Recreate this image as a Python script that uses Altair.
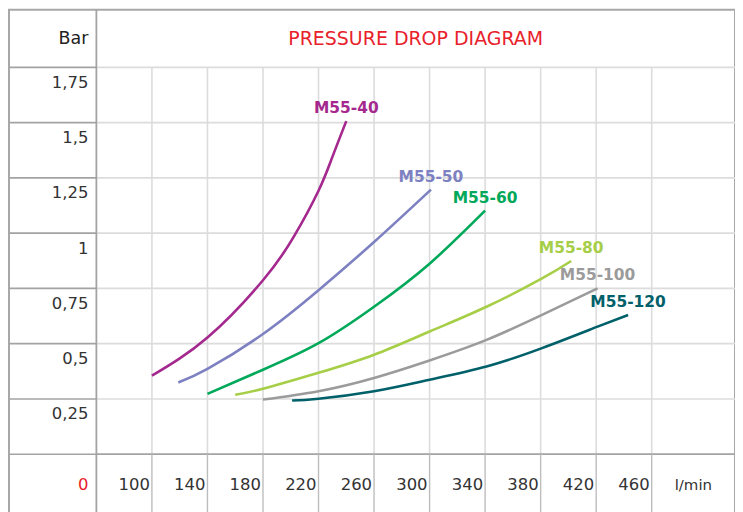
import altair as alt
import pandas as pd

# ---------------- data ----------------
SERIES = ["M55-40", "M55-50", "M55-60", "M55-80", "M55-100", "M55-120"]
COLORS = ["#a4288e", "#7d80c1", "#00a859", "#a6ce47", "#9b9b9b", "#00606a"]

m40_flow = [100, 140, 180, 202, 220, 230, 240]
m40_bar = [0.355, 0.528, 0.787, 0.982, 1.192, 1.345, 1.507]
m50_flow = [119, 140, 180, 220, 260, 301]
m50_bar = [0.324, 0.386, 0.544, 0.742, 0.960, 1.197]
m60_flow = [140, 180, 220, 260, 300, 340]
m60_bar = [0.273, 0.382, 0.502, 0.667, 0.862, 1.102]
m80_flow = [160, 180, 220, 260, 300, 341, 381, 402]
m80_bar = [0.269, 0.296, 0.368, 0.450, 0.555, 0.667, 0.795, 0.874]
m100_flow = [180, 220, 260, 300, 341, 381, 421]
m100_bar = [0.247, 0.285, 0.345, 0.424, 0.517, 0.630, 0.750]
m120_flow = [201, 220, 260, 300, 341, 381, 421, 443]
m120_bar = [0.243, 0.251, 0.285, 0.337, 0.397, 0.480, 0.577, 0.630]

Y_TICKS = [0.25, 0.5, 0.75, 1.0, 1.25, 1.5, 1.75]
Y_LABELS = ["0,25", "0,5", "0,75", "1", "1,25", "1,5", "1,75"]
X_TICKS = [100, 140, 180, 220, 260, 300, 340, 380, 420, 460]
X_LABELS = ["100", "140", "180", "220", "260", "300", "340", "380", "420", "460"]
ORIGIN_LABEL = "0"
UNIT_X = "l/min"
UNIT_Y = "Bar"
TITLE = "PRESSURE DROP DIAGRAM"

# table geometry in data units
X_MIN, X_SEP, X_MAX = -2.95, 60, 520
Y_MIN, Y_ZERO, Y_TOP, Y_MAX = -0.3353, 0, 1.75, 2.011

FONT = "DejaVu Sans"
DARK = "#a3a3a3"
LIGHT = "#dcdcdc"
TEXT = "#333333"
RED = "#e8212b"

xs = alt.Scale(domain=[X_MIN, X_MAX], nice=False, zero=False)
ys = alt.Scale(domain=[Y_MIN, Y_MAX], nice=False, zero=False)
cs = alt.Scale(domain=SERIES, range=COLORS)

flows = [m40_flow, m50_flow, m60_flow, m80_flow, m100_flow, m120_flow]
bars = [m40_bar, m50_bar, m60_bar, m80_bar, m100_bar, m120_bar]
rows = []
ends = []
for s, fl, br in zip(SERIES, flows, bars):
    for i, (f, b) in enumerate(zip(fl, br)):
        rows.append({"series": s, "flow": f, "bar": b, "idx": i})
    ends.append({"series": s, "flow": fl[-1], "bar": br[-1]})
curves = pd.DataFrame(rows)
ends = pd.DataFrame(ends)

X = lambda f: alt.X(f, scale=xs, axis=None)
Y = lambda f: alt.Y(f, scale=ys, axis=None)

# grid / table lines
h_plot = pd.DataFrame({"y": Y_TICKS, "x0": X_SEP, "x1": X_MAX})
h_left = pd.DataFrame({"y": Y_TICKS + [Y_ZERO], "x0": X_MIN, "x1": X_SEP})
h_zero = pd.DataFrame({"y": [Y_ZERO], "x0": [X_SEP], "x1": [X_MAX]})
v_plot = pd.DataFrame({"x": X_TICKS, "y0": Y_ZERO, "y1": Y_TOP})
v_bottom = pd.DataFrame({"x": X_TICKS, "y0": Y_MIN, "y1": Y_ZERO})
v_sep = pd.DataFrame({"x": [X_SEP], "y0": [Y_MIN], "y1": [Y_MAX]})

hp = alt.Chart(h_plot).mark_rule(color=LIGHT, strokeWidth=1.6).encode(y=Y("y:Q"), x=X("x0:Q"), x2="x1:Q")
vp = alt.Chart(v_plot).mark_rule(color=LIGHT, strokeWidth=1.6).encode(x=X("x:Q"), y=Y("y0:Q"), y2="y1:Q")
hl = alt.Chart(h_left).mark_rule(color=DARK, strokeWidth=1.6).encode(y=Y("y:Q"), x=X("x0:Q"), x2="x1:Q")
hz = alt.Chart(h_zero).mark_rule(color=DARK, strokeWidth=1.8).encode(y=Y("y:Q"), x=X("x0:Q"), x2="x1:Q")
vb = alt.Chart(v_bottom).mark_rule(color="#bdbdbd", strokeWidth=1.4).encode(x=X("x:Q"), y=Y("y0:Q"), y2="y1:Q")
vs = alt.Chart(v_sep).mark_rule(color=DARK, strokeWidth=1.8).encode(x=X("x:Q"), y=Y("y0:Q"), y2="y1:Q")

lines = alt.Chart(curves).mark_line(strokeWidth=2.6, interpolate="natural").encode(
    x=X("flow:Q"), y=Y("bar:Q"),
    color=alt.Color("series:N", scale=cs, legend=None),
    order="idx:Q",
)
labels = alt.Chart(ends).mark_text(font=FONT, fontSize=15.5, fontWeight="bold", dy=-13, align="center", baseline="middle").encode(
    x=X("flow:Q"), y=Y("bar:Q"), text="series:N",
    color=alt.Color("series:N", scale=cs, legend=None),
)

ylab = alt.Chart(pd.DataFrame({"y": Y_TICKS, "t": Y_LABELS, "x": X_SEP})).mark_text(
    font=FONT, fontSize=16.5, color=TEXT, align="right", baseline="middle", dx=-8, dy=15.5
).encode(x=X("x:Q"), y=Y("y:Q"), text="t:N")
xlab = alt.Chart(pd.DataFrame({"x": X_TICKS, "t": X_LABELS, "y": Y_ZERO})).mark_text(
    font=FONT, fontSize=16.5, color=TEXT, align="right", baseline="middle", dx=-2, dy=31
).encode(x=X("x:Q"), y=Y("y:Q"), text="t:N")
olab = alt.Chart(pd.DataFrame({"x": [X_SEP], "y": [Y_ZERO], "t": [ORIGIN_LABEL]})).mark_text(
    font=FONT, fontSize=16.5, color=RED, align="right", baseline="middle", dx=-8, dy=31
).encode(x=X("x:Q"), y=Y("y:Q"), text="t:N")
ulab = alt.Chart(pd.DataFrame({"x": [(X_TICKS[-1] + X_MAX) / 2], "y": [Y_ZERO], "t": [UNIT_X]})).mark_text(
    font=FONT, fontSize=15, color=TEXT, align="center", baseline="middle", dy=31
).encode(x=X("x:Q"), y=Y("y:Q"), text="t:N")
blab = alt.Chart(pd.DataFrame({"x": [X_SEP], "y": [Y_TOP], "t": [UNIT_Y]})).mark_text(
    font=FONT, fontSize=17.5, color="#222222", align="right", baseline="middle", dx=-8, dy=-28
).encode(x=X("x:Q"), y=Y("y:Q"), text="t:N")
tlab = alt.Chart(pd.DataFrame({"x": [(X_SEP + X_MAX) / 2], "y": [Y_TOP], "t": [TITLE]})).mark_text(
    font=FONT, fontSize=19, color=RED, align="center", baseline="middle", dy=-28
).encode(x=X("x:Q"), y=Y("y:Q"), text="t:N")

chart = alt.layer(
    hp, vp, hl, hz, vb, vs, lines, labels, ylab, xlab, olab, ulab, blab, tlab
).properties(
    width=728, height=520,
    autosize=alt.AutoSizeParams(type="none"),
    padding={"left": 1, "top": 1, "right": 0, "bottom": 0},
).configure_view(stroke="#a8a8a8", strokeWidth=2)

chart.save("out.html", embed_options={"renderer": "svg", "actions": False})
